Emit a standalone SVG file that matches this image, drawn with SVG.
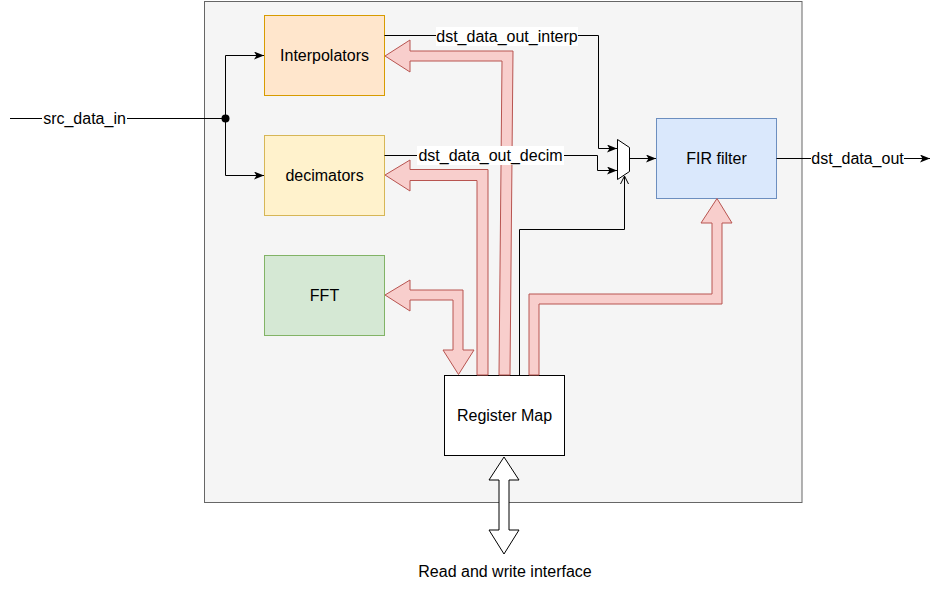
<svg xmlns="http://www.w3.org/2000/svg" width="941" height="590" viewBox="0 0 941 590">
<defs>
<style>
.t{font-family:"Liberation Sans",Arial,sans-serif;font-size:16px;fill:#000;text-anchor:middle;dominant-baseline:central}
.w{stroke:#000;stroke-width:1;fill:none}
.flex{fill:#f8cecc;stroke:#b85450;stroke-width:1;stroke-linejoin:miter}
.bg{fill:#fff}
</style>
<marker id="arr" viewBox="0 0 10 8" refX="10" refY="4" markerWidth="10" markerHeight="8" markerUnits="userSpaceOnUse" orient="auto">
<path d="M0,0 L10,4 L0,8 L2.5,4 z" fill="#000"/>
</marker>
<marker id="open" viewBox="0 0 10 10" refX="9" refY="5" markerWidth="10" markerHeight="10" markerUnits="userSpaceOnUse" orient="auto">
<path d="M1,1 L9,5 L1,9" fill="none" stroke="#000" stroke-width="1"/>
</marker>
</defs>
<rect width="941" height="590" fill="#fff"/>
<g id="container"><rect x="204.5" y="1.5" width="597.5" height="501" fill="#f5f5f5" stroke="#666666"/></g>
<g id="interpolators"><rect x="264.5" y="15.5" width="120" height="80" fill="#ffe6cc" stroke="#d79b00"/><text class="t" x="324.5" y="55.5">Interpolators</text></g>
<g id="decimators"><rect x="264.5" y="135.5" width="120" height="80" fill="#fff2cc" stroke="#d6b656"/><text class="t" x="324.5" y="175.5">decimators</text></g>
<g id="fft"><rect x="264.5" y="255.5" width="120" height="80" fill="#d5e8d4" stroke="#82b366"/><text class="t" x="324.5" y="295.5">FFT</text></g>
<g id="fir"><rect x="656.5" y="118.5" width="120" height="80" fill="#dae8fc" stroke="#6c8ebf"/><text class="t" x="716.5" y="158.5">FIR filter</text></g>
<g id="regmap"><rect x="444.5" y="375.5" width="120" height="80" fill="#fff" stroke="#000"/><text class="t" x="504.5" y="415.5">Register Map</text></g>
<g id="mux"><path d="M617.5,139.5 L629.5,147.5 L629.5,171.5 L617.5,179.5 Z" fill="#fff" stroke="#000"/></g>
<g id="connectors">
<polygon class="flex" points="385,56 410,40 410,51 513,51 510,375 499,375 502,61 410,61 410,72"/>
<polygon class="flex" points="385,175 410,160 410,169.5 488,169.5 488,375 477,375 477,180.5 410,180.5 410,191"/>
<polygon class="flex" points="385,295 410,280 410,290 463,290 463,350 474,350 458.5,374.5 443,350 453,350 453,300 410,300 410,311"/>
<polygon class="flex" points="529,375 529,294 712,294 712,223 701,223 717,198.5 732,223 722,223 722,304 539,304 539,375"/>
<polygon points="504,457 519,480 509,480 509,530 519,530 504,554 489,530 499,530 499,480 489,480" fill="#fff" stroke="#000"/>
<path class="w" d="M10,118.5 H225.5 V55.5 H264" marker-end="url(#arr)"/>
<path class="w" d="M225.5,118.5 V175.5 H264" marker-end="url(#arr)"/>
<circle cx="225.5" cy="118.5" r="4" fill="#000"/>
<path class="w" d="M384.5,35.5 H598.5 V148.5 H617" marker-end="url(#arr)"/>
<path class="w" d="M384.5,155.5 H597.5 V170.5 H617" marker-end="url(#arr)"/>
<path class="w" d="M629.5,158.5 H656" marker-end="url(#arr)"/>
<path class="w" d="M519.5,375 V229.5 H624.5 V176" marker-end="url(#open)"/>
<path class="w" d="M776.5,158.5 H930" marker-end="url(#arr)"/>
<rect class="bg" x="42" y="109" width="85" height="19"/>
<text class="t" x="84.5" y="118.5">src_data_in</text>
<rect class="bg" x="436" y="27" width="142" height="19"/>
<text class="t" x="507" y="36.5">dst_data_out_interp</text>
<rect class="bg" x="417" y="146" width="147" height="19"/>
<text class="t" x="490.5" y="155.5">dst_data_out_decim</text>
<rect class="bg" x="811" y="149" width="93" height="19"/>
<text class="t" x="857.5" y="158.5">dst_data_out</text>
<text class="t" x="505" y="571.5">Read and write interface</text>
</g>
</svg>
